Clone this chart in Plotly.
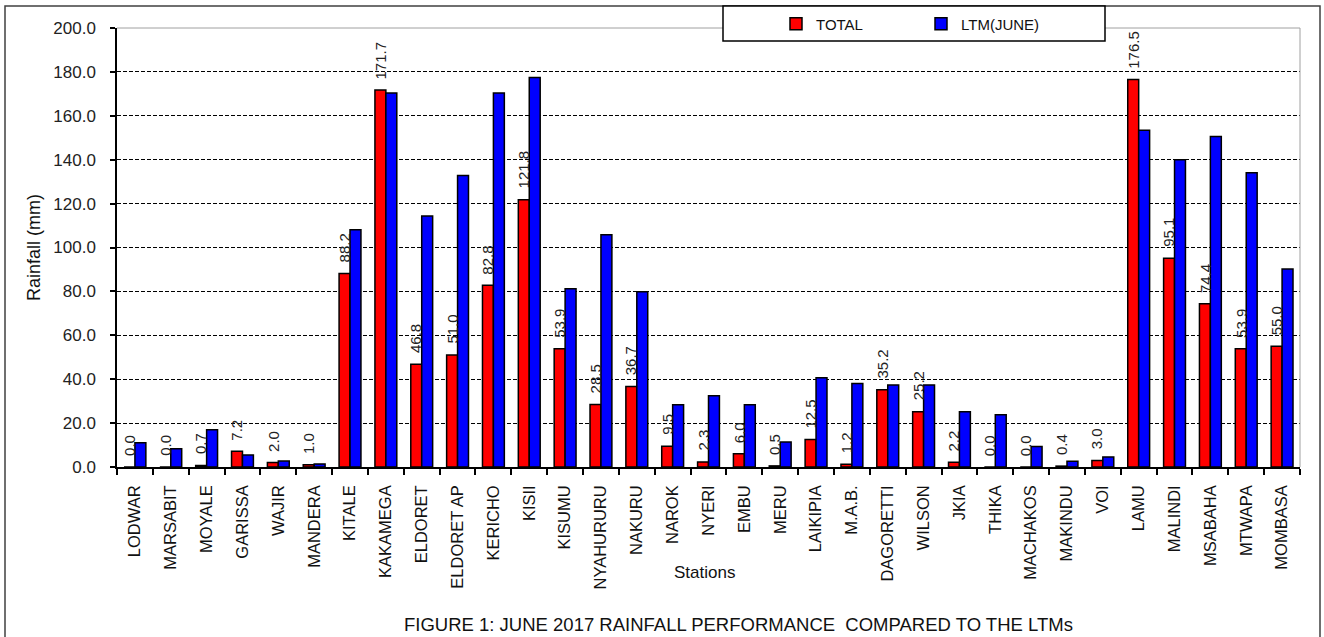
import plotly.graph_objects as go

stations = ["LODWAR", "MARSABIT", "MOYALE", "GARISSA", "WAJIR", "MANDERA", "KITALE", "KAKAMEGA",
            "ELDORET", "ELDORET AP", "KERICHO", "KISII", "KISUMU", "NYAHURURU", "NAKURU", "NAROK",
            "NYERI", "EMBU", "MERU", "LAIKIPIA", "M.A.B.", "DAGORETTI", "WILSON", "JKIA", "THIKA",
            "MACHAKOS", "MAKINDU", "VOI", "LAMU", "MALINDI", "MSABAHA", "MTWAPA", "MOMBASA"]
total = [0.0, 0.0, 0.7, 7.2, 2.0, 1.0, 88.2, 171.7,
         46.8, 51.0, 82.8, 121.8, 53.9, 28.5, 36.7, 9.5,
         2.3, 6.0, 0.5, 12.5, 1.2, 35.2, 25.2, 2.2, 0.0,
         0.0, 0.4, 3.0, 176.5, 95.1, 74.4, 53.9, 55.0]
ltm = [11.0, 8.3, 17.0, 5.5, 2.7, 1.4, 108.1, 170.4,
       114.3, 132.8, 170.4, 177.5, 81.2, 105.8, 79.8, 28.4,
       32.5, 28.4, 11.4, 40.7, 38.0, 37.4, 37.4, 25.2, 23.8,
       9.3, 2.6, 4.6, 153.4, 140.0, 150.6, 134.1, 90.2]
y_ticks = [0, 20, 40, 60, 80, 100, 120, 140, 160, 180, 200]

FONT = "Liberation Sans, Arial, sans-serif"
W, H = 1324, 637
ML, MR, MT, MB = 117, 24, 28, 170
PW, PH = W - ML - MR, H - MT - MB


def px(x):
    return (x - ML) / PW


def py(y):
    return (H - MB - y) / PH


fig = go.Figure()
fig.add_trace(go.Bar(name="TOTAL", x=stations, y=total,
                     marker=dict(color="#FF0000", line=dict(color="black", width=1.5))))
fig.add_trace(go.Bar(name="LTM(JUNE)", x=stations, y=ltm,
                     marker=dict(color="#0000FF", line=dict(color="black", width=1.5))))

annotations = []
for s, v in zip(stations, total):
    annotations.append(dict(x=s, y=v, xref="x", yref="y", text=f"{v:.1f}", textangle=-90,
                            showarrow=False, xanchor="center", yanchor="bottom",
                            xshift=-5.5, yshift=9,
                            font=dict(family=FONT, size=15, color="#222")))
annotations.append(dict(x=px(704), y=py(572), xref="paper", yref="paper", text="Stations",
                        showarrow=False, xanchor="center", yanchor="middle",
                        font=dict(family=FONT, size=17, color="#111")))
annotations.append(dict(x=px(738), y=py(625), xref="paper", yref="paper",
                        text="FIGURE 1: JUNE 2017 RAINFALL PERFORMANCE\u00a0 COMPARED TO THE LTMs",
                        showarrow=False, xanchor="center", yanchor="middle",
                        font=dict(family=FONT, size=18.5, color="#111")))

shapes = [
    # outer frame
    dict(type="rect", xref="paper", yref="paper", x0=px(5), x1=px(1320), y0=py(650), y1=py(6),
         line=dict(color="#404040", width=1.5), fillcolor="rgba(0,0,0,0)", layer="below"),
    # plot area border (top/right grey)
    dict(type="line", xref="paper", yref="paper", x0=0, x1=1, y0=1, y1=1,
         line=dict(color="#a0a0a0", width=1), layer="above"),
    dict(type="line", xref="paper", yref="paper", x0=1, x1=1, y0=0, y1=1,
         line=dict(color="#a0a0a0", width=1), layer="above"),
    # legend box
    dict(type="rect", xref="paper", yref="paper", x0=px(723), x1=px(1105), y0=py(41), y1=py(6),
         line=dict(color="black", width=1.5), fillcolor="white", layer="above"),
]

fig.update_layout(
    width=W, height=H,
    margin=dict(l=ML, r=MR, t=MT, b=MB, autoexpand=False),
    paper_bgcolor="white", plot_bgcolor="white",
    barmode="group", bargap=0.39, bargroupgap=0,
    font=dict(family=FONT, color="#111"),
    showlegend=True,
    legend=dict(orientation="h", x=px(776), xanchor="left", y=py(24), yanchor="middle",
                bgcolor="rgba(0,0,0,0)", borderwidth=0, entrywidth=100, entrywidthmode="pixels",
                font=dict(family=FONT, size=15, color="#111"), itemwidth=30),
    xaxis=dict(type="category", tickangle=-90, showline=True, linecolor="black", linewidth=1.5,
               ticks="outside", tickson="boundaries", ticklen=6, tickcolor="black", tickwidth=1.5,
               ticklabelstandoff=10, showgrid=False,
               tickfont=dict(family=FONT, size=16.5, color="#111"), automargin=False),
    yaxis=dict(range=[0, 200], tickvals=y_ticks, ticktext=[f"{t:.1f}" for t in y_ticks],
               showline=True, linecolor="black", linewidth=1.5, ticks="outside", ticklen=5,
               tickcolor="black", tickwidth=1.5, ticklabelstandoff=11,
               showgrid=True, gridcolor="black", gridwidth=1, griddash="4px,2px", zeroline=False,
               tickfont=dict(family=FONT, size=17, color="#222"), automargin=False,
               title=dict(text="Rainfall (mm)", font=dict(family=FONT, size=18, color="#111"),
                          standoff=8)),
    annotations=annotations,
    shapes=shapes,
)

fig.write_html("out.html")
